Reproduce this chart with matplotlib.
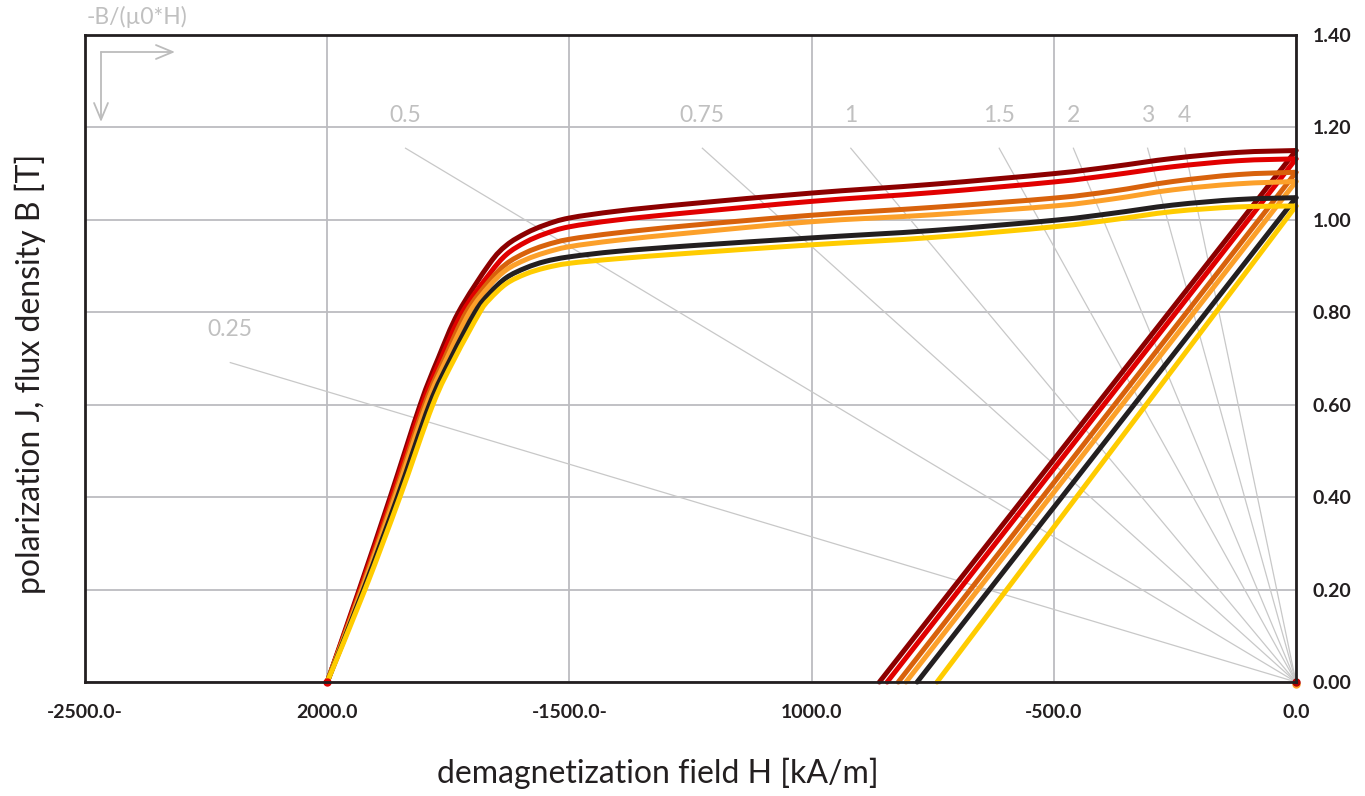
import numpy as np
import matplotlib
matplotlib.use("Agg")
import matplotlib.pyplot as plt
from matplotlib.path import Path
from matplotlib.patches import PathPatch

plt.rcParams['font.family'] = ['Lato', 'DejaVu Sans']

# ---- data -------------------------------------------------------------
# intrinsic demagnetization curves J(H), H in kA/m, J in T
dkred_H = [-2000, -1934, -1870, -1808, -1771, -1729, -1665, -1630, -1590, -1550,
           -1500, -1400, -1250, -1000, -750, -500, -380, -254, -120, 0]
dkred_J = [0.00, 0.20, 0.40, 0.60, 0.70, 0.80, 0.905, 0.945, 0.971, 0.989,
           1.004, 1.019, 1.035, 1.058, 1.077, 1.100, 1.115, 1.133, 1.146, 1.150]

red_H = [-2000, -1932, -1867, -1804, -1765, -1721, -1665, -1630, -1590, -1550,
         -1500, -1400, -1250, -1000, -750, -500, -380, -254, -120, 0]
red_J = [0.00, 0.20, 0.40, 0.60, 0.70, 0.80, 0.883, 0.925, 0.952, 0.970,
         0.985, 1.000, 1.016, 1.040, 1.059, 1.082, 1.097, 1.115, 1.128, 1.132]

dkorange_H = [-2000, -1930, -1863, -1799, -1758, -1713, -1665, -1630, -1590, -1550,
              -1500, -1400, -1250, -1000, -750, -500, -380, -254, -120, 0]
dkorange_J = [0.00, 0.20, 0.40, 0.60, 0.70, 0.80, 0.868, 0.905, 0.929, 0.945,
              0.958, 0.972, 0.988, 1.010, 1.027, 1.047, 1.062, 1.083, 1.098, 1.103]

orange_H = [-2000, -1928, -1860, -1795, -1753, -1706, -1665, -1630, -1590, -1550,
            -1500, -1400, -1250, -1000, -750, -500, -380, -254, -120, 0]
orange_J = [0.00, 0.20, 0.40, 0.60, 0.70, 0.80, 0.857, 0.892, 0.914, 0.929,
            0.942, 0.956, 0.972, 0.996, 1.011, 1.030, 1.045, 1.065, 1.078, 1.083]

black_H = [-2000, -1925, -1855, -1789, -1745, -1695, -1665, -1630, -1590, -1550,
           -1500, -1400, -1250, -1000, -750, -500, -380, -254, -120, 0]
black_J = [0.00, 0.20, 0.40, 0.60, 0.70, 0.80, 0.841, 0.875, 0.896, 0.910,
           0.920, 0.932, 0.944, 0.961, 0.977, 0.999, 1.014, 1.032, 1.044, 1.048]

yellow_H = [-2000, -1922, -1850, -1782, -1737, -1685, -1665, -1630, -1590, -1550,
            -1500, -1400, -1250, -1000, -750, -500, -380, -254, -120, 0]
yellow_J = [0.00, 0.20, 0.40, 0.60, 0.70, 0.80, 0.828, 0.862, 0.883, 0.896,
            0.906, 0.916, 0.928, 0.946, 0.962, 0.985, 1.000, 1.018, 1.028, 1.030]

# normal curves B(H): straight from (HcB, 0) to (0, Br)
br_values = [1.150, 1.132, 1.103, 1.083, 1.048, 1.030]
hcb_values = [-860, -844, -821, -805, -782, -741]

series_colors = ['#8c0000', '#e10000', '#d8620c', '#fca02a', '#231f20', '#ffcc00']

# permeance coefficients -B/(mu0*H) for the load lines
permeance = [0.25, 0.5, 0.75, 1, 1.5, 2, 3, 4]
permeance_labels = ['0.25', '0.5', '0.75', '1', '1.5', '2', '3', '4']
load_line_top = 1.155          # T, upper end of load lines
load_line_hmin = -2200         # kA/m, left end limit (0.25 line)

x_ticks = [-2500, -2000, -1500, -1000, -500, 0]
x_tick_labels = ['-2500.0-', '2000.0', '-1500.0-', '1000.0', '-500.0', '0.0']
y_ticks = [0.0, 0.2, 0.4, 0.6, 0.8, 1.0, 1.2, 1.4]
y_tick_labels = ['0.00', '0.20', '0.40', '0.60', '0.80', '1.00', '1.20', '1.40']

MU0 = 4 * np.pi * 1e-4   # T per (kA/m)

# ---- helpers ----------------------------------------------------------
def smooth_path(xs, ys):
    """Catmull-Rom style cubic Bezier path through the given points."""
    pts = np.column_stack([xs, ys]).astype(float)
    n = len(pts)
    verts = [pts[0]]
    codes = [Path.MOVETO]
    for i in range(n - 1):
        p0 = pts[i - 1] if i > 0 else pts[i]
        p1 = pts[i]
        p2 = pts[i + 1]
        p3 = pts[i + 2] if i + 2 < n else pts[i + 1]
        c1 = p1 + (p2 - p0) / 6.0
        c2 = p2 - (p3 - p1) / 6.0
        verts += [c1, c2, p2]
        codes += [Path.CURVE4] * 3
    return Path(verts, codes)

# ---- figure -----------------------------------------------------------
W, H = 1365, 796
fig = plt.figure(figsize=(W / 100, H / 100), dpi=100)
L, R, T, B = 85, 1296, 35, 682
ax = fig.add_axes([L / W, 1 - B / H, (R - L) / W, (B - T) / H])
ax.set_xlim(-2500, 0)
ax.set_ylim(0, 1.4)

grid_c = '#bcbcc0'
ax.set_xticks(x_ticks)
ax.set_yticks(y_ticks)
ax.grid(True, color=grid_c, lw=1.3, zorder=0)
ax.set_axisbelow(True)

ax.yaxis.tick_right()
ax.set_xticklabels(x_tick_labels, fontsize=14, fontweight='bold', color='#231f20')
ax.set_yticklabels(y_tick_labels, fontsize=14, fontweight='bold', color='#231f20')
ax.tick_params(axis='both', length=0)
ax.tick_params(axis='x', pad=16)
ax.tick_params(axis='y', pad=12)

for sp in ax.spines.values():
    sp.set_color('#231f20')
    sp.set_linewidth(2.0)
    sp.set_zorder(10)

# load lines
load_c = '#c8c8c8'
for p, lab in zip(permeance, permeance_labels):
    h_end = -load_line_top / (p * MU0)
    b_end = load_line_top
    if h_end < load_line_hmin:
        h_end = load_line_hmin
        b_end = -p * MU0 * h_end
    ax.plot([0, h_end], [0, b_end], color=load_c, lw=0.9, zorder=1)
    ax.annotate(lab, xy=(h_end, b_end), xytext=(0, 33), textcoords='offset pixels',
                ha='center', va='center', fontsize=16.5, color='#c0c0c0')

# demagnetization curves, drawn light to dark so dark red ends on top
J_H = [dkred_H, red_H, dkorange_H, orange_H, black_H, yellow_H]
J_J = [dkred_J, red_J, dkorange_J, orange_J, black_J, yellow_J]
for k in reversed(range(6)):
    col = series_colors[k]
    patch = PathPatch(smooth_path(J_H[k], J_J[k]), fill=False, edgecolor=col,
                      lw=3.6, capstyle='round', joinstyle='round', zorder=3 + k * 0.01,
                      clip_on=False)
    ax.add_patch(patch)
    ax.plot([hcb_values[k], 0], [0, br_values[k]], color=col, lw=3.6,
            solid_capstyle='round', zorder=3 + k * 0.01, clip_on=False)

ax.plot([-2000], [0], 'o', color='#e10000', ms=5, zorder=6, clip_on=False)
ax.plot([0], [-0.004], 'o', color='#fca02a', ms=5, zorder=6, clip_on=False)
ax.plot([0], [0], 'o', color='#b00000', ms=5, zorder=6, clip_on=False)

# orientation arrows in the upper left corner
arr_c = '#bcbcbc'
x0, y0 = (101 - L) / (R - L), (B - 52) / (B - T)
ax.annotate('', xy=((175 - L) / (R - L), y0), xytext=(x0, y0), xycoords='axes fraction',
            arrowprops=dict(arrowstyle='->,head_length=1.2,head_width=0.5', color=arr_c,
                            lw=1.3, shrinkA=0, shrinkB=0))
ax.annotate('', xy=(x0, (B - 122) / (B - T)), xytext=(x0, y0), xycoords='axes fraction',
            arrowprops=dict(arrowstyle='->,head_length=1.2,head_width=0.5', color=arr_c,
                            lw=1.3, shrinkA=0, shrinkB=0))

fig.text(87 / W, 1 - 17 / H, '-B/(µ0*H)', ha='left', va='center', fontsize=16.5, color='#c0c0c0')

fig.text(658 / W, 1 - 773 / H, 'demagnetization field H [kA/m]', ha='center', va='center',
         fontsize=23, color='#231f20')
fig.text(30 / W, 1 - 374 / H, 'polarization J, flux density B [T]', ha='center', va='center',
         rotation=90, fontsize=23, color='#231f20')

fig.savefig('out.png', dpi=100)
